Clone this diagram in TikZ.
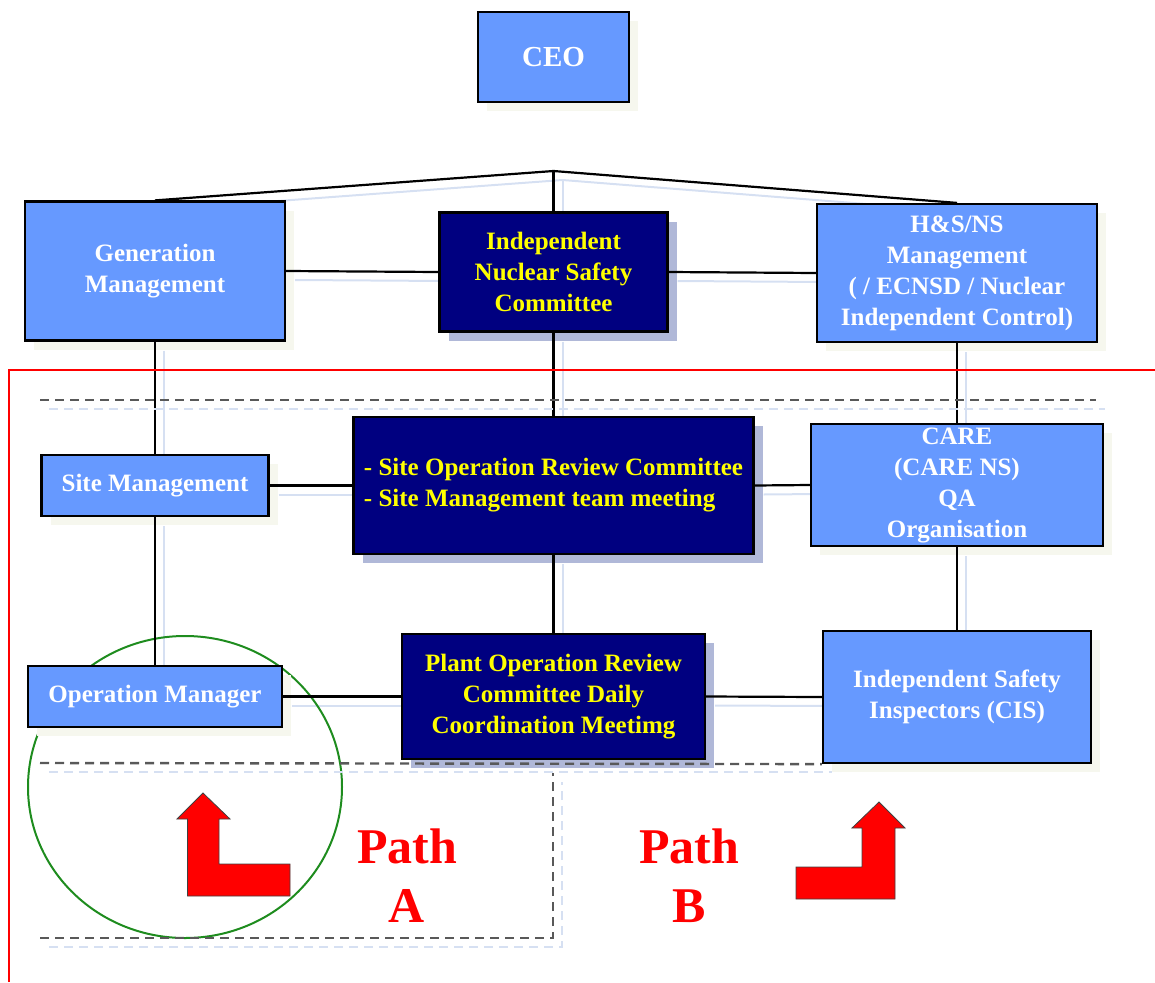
\documentclass[tikz,border=0pt]{standalone}
\usepackage{fontspec}
\setmainfont{Liberation Serif}
\usetikzlibrary{shadows}
\definecolor{boxblue}{HTML}{6699FF}
\definecolor{navybox}{HTML}{000080}
\definecolor{navyshadow}{HTML}{B0B8D8}
\definecolor{paleshadow}{HTML}{F6F7EE}
\definecolor{ghostblue}{HTML}{D6E0F2}
\definecolor{dashgray}{HTML}{595959}
\definecolor{circgreen}{HTML}{1E8C1E}
\definecolor{labelyellow}{HTML}{FFFF00}
\pgfdeclarelayer{bg}
\pgfsetlayers{bg,main}
\tikzset{
  boxtext/.style={font=\bfseries\fontsize{25}{31}\selectfont},
  lbox/.style={draw=black, line width=2.2pt, fill=boxblue, text=white, boxtext,
    align=center, inner sep=0pt,
    drop shadow={shadow xshift=9pt, shadow yshift=-9pt, fill=paleshadow, opacity=1}},
  nbox/.style={draw=black, line width=2.2pt, fill=navybox, text=labelyellow, boxtext,
    align=center, inner sep=0pt,
    drop shadow={shadow xshift=9pt, shadow yshift=-9pt, fill=navyshadow, opacity=1}},
  conn/.style={draw=black, line width=2.2pt},
  dline/.style={draw=dashgray, line width=2.4pt, dash pattern=on 9pt off 6pt},
  ghostdline/.style={draw=ghostblue, line width=2pt, dash pattern=on 9pt off 6pt},
  redframe/.style={draw=red, line width=1.6pt},
  pathlabel/.style={text=red, font=\bfseries\fontsize{50}{59}\selectfont, align=center, inner sep=0pt},
  bigarrow/.style={fill=red, draw=black!75, line width=0.8pt, line join=miter},
}
\newcommand\orgconnectors{%
  \draw[conn] (gm.north) -- (apex) -- (hs.north);
  \draw[conn] (apex) -- (insc.north);
  \draw[conn] (gm.east) -- (insc.west);
  \draw[conn] (insc.east) -- (hs.west);
  \draw[conn] (gm.south) -- (site.north);
  \draw[conn] (site.south) -- (opm.north);
  \draw[conn] (site.east) -- (sorc.west);
  \draw[conn] (sorc.east) -- (care.west);
  \draw[conn] (insc.south) -- (sorc.north);
  \draw[conn] (hs.south) -- (care.north);
  \draw[conn] (sorc.south) -- (porc.north);
  \draw[conn] (care.south) -- (isi.north);
  \draw[conn] (opm.east) -- (porc.west);
  \draw[conn] (porc.east) -- (isi.west);
}
\begin{document}
\begin{tikzpicture}[x=1pt,y=-1pt]
\useasboundingbox (0,0) rectangle (1155,982);

% boxes
\node[lbox, minimum width=151pt, minimum height=90pt, font=\bfseries\fontsize{29}{34}\selectfont] (ceo) at (553.5,57) {CEO};
\node[lbox, minimum width=260pt, minimum height=139pt] (gm) at (155,271) {Generation\\Management};
\node[nbox, minimum width=228pt, minimum height=119pt] (insc) at (553.5,272) {Independent\\Nuclear Safety\\Committee};
\node[lbox, minimum width=280pt, minimum height=138pt] (hs) at (957,273) {H\&S/NS\\Management\\( / ECNSD / Nuclear\\Independent Control)};
\node[lbox, minimum width=227pt, minimum height=61pt] (site) at (155,485.5) {Site Management};
\node[nbox, minimum width=400pt, minimum height=137pt, align=left] (sorc) at (553.5,485.5) {- Site Operation Review Committee\\- Site Management team meeting};
\node[lbox, minimum width=292pt, minimum height=122pt] (care) at (957,485) {CARE\\(CARE NS)\\QA\\Organisation};
\node[lbox, minimum width=254pt, minimum height=61pt] (opm) at (155,696.5) {Operation Manager};
\node[nbox, minimum width=303pt, minimum height=125pt] (porc) at (553.5,696.5) {Plant Operation Review\\Committee Daily\\Coordination Meetimg};
\node[lbox, minimum width=268pt, minimum height=132pt] (isi) at (957,697) {Independent Safety\\Inspectors (CIS)};
\coordinate (apex) at (553.5,171);

\begin{pgfonlayer}{bg}
  % faint offset copies of the connectors
  \begin{scope}[transform canvas={shift={(9,9)}}, conn/.style={draw=ghostblue, line width=2pt}]
    \orgconnectors
  \end{scope}
  % green circle
  \draw[circgreen, line width=2pt] (185,787) ellipse [x radius=157pt, y radius=151pt];
\end{pgfonlayer}

% connectors
\orgconnectors

% dashed region lines (with faint offset copies)
\draw[ghostdline] (49,409) -- (1105,409);
\draw[ghostdline] (49,772) -- (832,772);
\draw[ghostdline] (49,947) -- (562,947) -- (562,782);
\draw[dline] (40,400) -- (1096,400);
\draw[dline] (40,763) -- (isi.south west);
\draw[dline] (40,938) -- (553,938) -- (553,773);

% red frame
\draw[redframe] (9,982) -- (9,370) -- (1155,370);

% arrows
\draw[bigarrow] (203,793) -- (230,819) -- (219,819) -- (219,864) -- (290,864) -- (290,896)
  -- (187.5,896) -- (187.5,819) -- (177,819) -- cycle;
\draw[bigarrow] (879,802) -- (905,828) -- (895,828) -- (895,899) -- (796,899) -- (796,867)
  -- (862,867) -- (862,828) -- (852,828) -- cycle;

% path labels
\node[pathlabel, anchor=north] (patha) at (407,829) {Path\\A};
\node[pathlabel, anchor=north] (pathb) at (689,829) {Path\\B};
\end{tikzpicture}
\end{document}
